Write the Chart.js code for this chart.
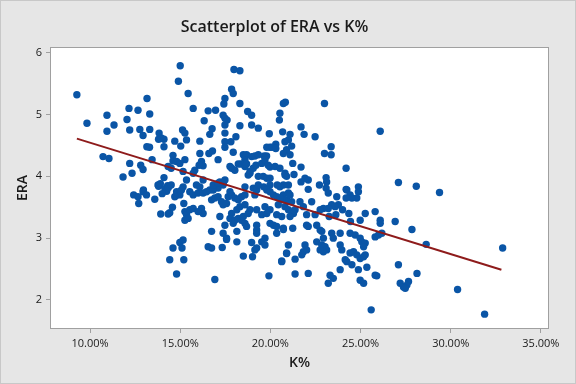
<!DOCTYPE html>
<html>
<head>
<meta charset="utf-8">
<script src="https://cdn.jsdelivr.net/npm/chart.js@4.4.0/dist/chart.umd.min.js"></script>
<style>
  html, body { margin: 0; padding: 0; background: #e6e6e6; }
  #wrap { width: 576px; height: 384px; }
</style>
</head>
<body>
<div id="wrap"><canvas id="chart" width="576" height="384"></canvas></div>
<script>
// Strikeout rate (%) of each pitcher
const kPct = [
  9.27, 13.16, 12.16, 12.66, 13.31, 10.94, 12.05, 9.83, 11.33, 10.94, 12.2, 12.76, 12.94, 13.31, 13.83, 13.8, 13.95, 14.1,
  14.7, 13.15, 13.3, 14.1, 15.0, 14.9, 10.72, 11.05, 12.2, 13.44, 12.81, 12.94, 14.6, 14.6, 14.33, 14.5, 11.83, 12.33,
  14.1, 13.77, 14.3, 12.96,
  12.42, 12.66, 12.94, 13.13, 12.7, 13.59, 13.8, 13.9, 14.15, 14.25, 14.0, 14.35, 13.92, 14.33, 14.42, 14.57, 14.8, 14.6,
  14.42, 14.8, 14.98,
  15.44, 17.98, 18.31, 17.85, 17.94, 15.72, 18.31, 17.48, 17.42, 16.55, 16.96, 16.33, 17.38, 17.48, 17.6, 18.74, 18.96, 20.53,
  20.5, 20.72, 20.83, 18.31, 18.96, 19.33, 17.48, 16.77, 16.64, 15.13, 15.26, 15.35, 15.03, 16.09, 17.48, 17.48, 18.09, 17.81,
  17.48, 17.94, 16.79, 16.59, 16.09, 15.26, 14.8, 14.98, 16.18, 16.27, 16.05, 17.1, 15.81, 15.72, 15.16, 18.5, 18.68, 18.59,
  18.96, 19.14, 19.33, 19.66, 19.79, 19.94, 20.3, 19.98, 19.8, 20.1, 20.3, 20.68, 20.81, 21.0, 20.9, 20.72, 18.59, 18.87,
  19.05, 19.2, 19.52, 18.37, 18.22, 18.68, 17.85, 18.03, 17.76, 18.77, 18.87, 19.7, 19.88, 19.98, 19.33, 19.6, 19.8, 19.98,
  20.26, 20.53, 20.81, 20.9, 18.59, 19.05, 19.24, 19.63, 19.98, 20.38, 20.72, 21.0, 17.2, 17.38, 17.48, 16.92, 17.1, 15.9,
  16.27, 15.35, 15.16, 14.5,
  14.8, 14.98, 14.7, 15.07, 15.2, 15.53, 15.72, 15.99, 16.27, 16.46, 16.64, 16.83, 16.09, 16.83, 17.1, 17.38, 15.26, 15.35,
  15.26, 15.44, 15.53, 15.72, 16.18, 16.27, 15.99, 16.74, 16.92, 17.1, 17.29, 17.38, 17.57, 17.66, 17.85, 17.76, 18.03, 18.22,
  18.4, 18.59, 18.31, 18.59, 18.14, 17.85, 17.94, 17.2, 17.48, 17.38, 17.57, 17.76, 18.03, 18.22, 18.4, 18.59, 18.68, 18.5,
  18.77, 18.87, 19.14, 19.24, 19.33, 19.8, 19.98, 20.17, 20.35, 20.72, 21.0, 20.9, 20.63, 20.44, 20.81, 21.0, 20.53, 19.24,
  19.7, 19.98, 19.52, 19.8, 20.35, 20.63, 19.98, 20.17, 20.35, 20.72, 20.35, 19.24, 19.24, 19.24, 16.74, 18.14, 18.14, 17.57,
  15.16, 15.1, 15.2, 16.55, 16.74, 17.33, 18.5, 18.96, 19.01, 19.14, 19.24, 19.52, 19.7, 19.7, 16.92, 19.92, 20.63, 20.9, 21.0,
  23.0, 26.09, 21.7, 21.09, 21.87, 22.48, 21.18, 23.37, 23.0, 23.37, 21.09, 21.24, 21.7, 24.2, 20.81, 21.31, 21.7, 21.92,
  22.1, 23.09, 22.72, 23.09, 22.1, 24.2, 24.88, 27.1, 28.09,
  23.12, 23.21, 24.88, 24.79, 24.24, 24.42, 24.52, 24.2, 23.68, 23.77, 23.59, 23.4, 23.21, 22.94, 22.76, 22.48, 23.26, 23.63,
  24.0, 20.53, 21.09, 21.18, 21.37, 21.28, 21.09, 21.64, 21.83, 22.29, 22.01, 20.72, 21.24, 22.01, 22.1, 22.57, 22.76, 22.85,
  23.4, 23.87, 23.49, 22.94, 22.57, 22.85, 23.03, 23.12, 22.94, 22.76, 21.92, 21.83, 22.01, 21.74, 20.9, 21.37, 20.63, 23.87,
  23.96, 24.42, 24.61, 24.79, 24.98, 25.17, 25.26, 24.42, 24.7, 24.98, 25.07, 25.26, 25.17, 25.81, 26.0, 26.18, 24.35, 24.44,
  24.98, 25.26, 25.81, 26.09, 26.09, 26.92, 27.85, 24.24, 24.52, 24.15, 23.87, 23.31, 23.49, 23.21, 24.88, 25.35, 24.98, 25.17,
  25.81, 25.9, 21.37, 22.1, 27.1, 27.2, 27.38, 27.57, 27.66, 27.48, 25.59, 28.13,
  29.38, 28.64, 32.88, 30.38, 31.88
];

// Earned run average of each pitcher
const era = [
  5.32, 5.26, 5.10, 5.07, 5.01, 4.99, 4.92, 4.86, 4.83, 4.73, 4.75, 4.76, 4.66, 4.76, 4.70, 4.60, 4.62, 4.60,
  4.57, 4.48, 4.47, 4.48, 5.79, 5.54, 4.32, 4.29, 4.21, 4.27, 4.18, 4.11, 4.34, 4.25, 4.16, 4.13, 3.99, 4.05,
  3.98, 3.86, 3.85, 3.78,
  3.70, 3.67, 3.75, 3.70, 3.56, 3.63, 3.84, 3.88, 3.80, 3.76, 3.72, 3.82, 3.39, 3.39, 3.41, 3.50, 3.70, 2.84,
  2.65, 2.42, 2.93,
  5.34, 5.73, 5.71, 5.41, 5.34, 5.10, 5.18, 5.26, 5.17, 5.06, 5.07, 4.90, 4.99, 4.94, 4.91, 5.05, 4.99, 5.02,
  4.91, 5.18, 5.20, 4.82, 4.83, 4.78, 4.83, 4.77, 4.68, 4.75, 4.70, 4.59, 4.49, 4.57, 4.70, 4.56, 4.64, 4.56,
  4.47, 4.39, 4.41, 4.37, 4.37, 4.27, 4.24, 4.21, 4.24, 4.17, 4.18, 4.27, 4.10, 4.05, 4.08, 4.35, 4.35, 4.27,
  4.32, 4.33, 4.35, 4.33, 4.33, 4.69, 4.52, 4.47, 4.47, 4.47, 4.45, 4.72, 4.56, 4.59, 4.43, 4.37, 4.16, 4.08,
  4.13, 4.18, 4.21, 4.20, 4.20, 4.20, 4.13, 4.10, 4.16, 4.02, 4.05, 4.27, 4.18, 4.15, 4.00, 4.00, 3.97, 3.97,
  4.16, 4.13, 4.05, 4.00, 3.83, 3.81, 3.81, 3.83, 3.86, 3.86, 3.86, 3.86, 3.91, 3.89, 3.94, 3.83, 3.81, 3.86,
  3.94, 3.94, 3.83, 3.86,
  3.75, 3.70, 3.67, 3.78, 3.56, 3.75, 3.70, 3.73, 3.73, 3.75, 3.78, 3.78, 3.83, 3.86, 3.89, 3.86, 3.43, 3.38,
  3.29, 3.32, 3.46, 3.48, 3.48, 3.40, 3.43, 3.62, 3.65, 3.67, 3.59, 3.54, 3.56, 3.67, 3.70, 3.75, 3.65, 3.62,
  3.67, 3.70, 3.51, 3.54, 3.46, 3.40, 3.24, 3.35, 3.21, 3.08, 3.00, 3.32, 3.29, 3.32, 3.29, 3.24, 3.19, 3.35,
  3.40, 3.46, 3.70, 3.78, 3.86, 3.78, 3.75, 3.70, 3.67, 3.70, 3.73, 3.62, 3.62, 3.54, 3.51, 3.46, 3.83, 3.46,
  3.51, 3.46, 3.38, 3.40, 3.38, 3.35, 3.24, 3.21, 3.19, 3.16, 3.08, 3.21, 3.13, 3.08, 3.11, 3.11, 2.94, 2.98,
  2.97, 2.84, 2.65, 2.86, 2.84, 2.85, 2.71, 2.93, 2.70, 2.81, 2.84, 2.94, 2.89, 3.00, 2.33, 2.39, 2.63, 2.75, 2.89,
  5.18, 4.73, 4.80, 4.68, 4.68, 4.64, 4.49, 4.48, 4.37, 4.35, 4.35, 4.21, 4.15, 4.13, 4.02, 4.03, 3.91, 3.97,
  3.94, 3.98, 3.86, 3.81, 3.79, 3.79, 3.83, 3.90, 3.84,
  3.91, 3.73, 3.75, 3.65, 3.78, 3.70, 3.65, 3.65, 3.67, 3.54, 3.51, 3.54, 3.48, 3.48, 3.46, 3.38, 3.35, 3.38,
  3.46, 3.65, 3.70, 3.59, 3.46, 3.40, 3.35, 3.59, 3.51, 3.59, 3.38, 3.14, 3.16, 3.21, 3.19, 3.21, 3.13, 3.11,
  3.08, 3.08, 3.00, 3.00, 2.94, 2.89, 2.86, 2.81, 2.78, 2.81, 2.89, 2.78, 2.81, 2.73, 2.76, 2.66, 2.62, 2.89,
  2.81, 2.76, 2.78, 2.73, 2.67, 2.70, 2.73, 3.08, 3.05, 3.00, 2.94, 2.92, 2.86, 3.02, 3.05, 3.08, 3.40, 3.27,
  3.29, 3.40, 3.43, 3.29, 3.24, 3.27, 3.14, 2.62, 2.57, 2.65, 2.49, 2.40, 2.35, 2.27, 2.49, 2.53, 2.32, 2.27,
  2.40, 2.39, 2.42, 2.43, 2.57, 2.27, 2.21, 2.24, 2.30, 2.19, 1.84, 2.43,
  3.74, 2.90, 2.84, 2.17, 1.77
];

// Fitted regression line end points
const fitK = [9.27, 32.81];
const fitEra = [4.61, 2.49];

// Tick labels
const xTicks = [10, 15, 20, 25, 30, 35];
const yTicks = [2, 3, 4, 5, 6];

const points = kPct.map((k, i) => ({ x: k, y: era[i] }));
const fitLine = fitK.map((k, i) => ({ x: k, y: fitEra[i] }));

const fontFamily = '"Open Sans", "Noto Sans", sans-serif';
const axisGray = '#a0a0a0';

// Gray page, white plot area and a full frame round it
const framePlugin = {
    id: 'frame',
    beforeDraw(chart) {
        const { ctx, chartArea: a, width, height } = chart;
        ctx.save();
        ctx.fillStyle = '#e6e6e6';
        ctx.fillRect(0, 0, width, height);
        ctx.strokeStyle = '#c8c8c8';
        ctx.lineWidth = 1;
        ctx.strokeRect(0.5, 0.5, width - 1, height - 1);
        ctx.fillStyle = '#ffffff';
        ctx.fillRect(a.left, a.top, a.right - a.left, a.bottom - a.top);
        ctx.restore();
    },
    afterDraw(chart) {
        const { ctx, chartArea: a } = chart;
        ctx.save();
        ctx.strokeStyle = axisGray;
        ctx.lineWidth = 1;
        ctx.strokeRect(Math.round(a.left) + 0.5, Math.round(a.top) + 0.5,
            Math.round(a.right - a.left) - 1, Math.round(a.bottom - a.top) - 1);
        ctx.restore();
    }
};

const ctx = document.getElementById('chart').getContext('2d');
const chart = new Chart(ctx, {
    type: 'scatter',
    data: {
        datasets: [
            {
                type: 'line',
                label: 'Fit',
                data: fitLine,
                borderColor: '#8e1b1b',
                borderWidth: 2,
                pointRadius: 0,
                fill: false
            },
            {
                label: 'ERA',
                data: points,
                backgroundColor: '#0a55a6',
                borderWidth: 0,
                pointRadius: 3.7,
                pointHoverRadius: 3.7
            }
        ]
    },
    options: {
        responsive: false,
        animation: false,
        events: [],
        layout: {
            padding: { left: 0, right: 27, top: 0, bottom: 0 }
        },
        plugins: {
            legend: { display: false },
            tooltip: { enabled: false },
            title: {
                display: true,
                text: 'Scatterplot of ERA vs K%',
                color: '#1a1a1a',
                font: { family: fontFamily, size: 16, weight: '600' },
                padding: { top: 18, bottom: 10 }
            }
        },
        scales: {
            x: {
                type: 'linear',
                min: 7.78,
                max: 35.45,
                afterBuildTicks: function(scale) {
                    scale.ticks = xTicks.map(v => ({ value: v }));
                },
                afterFit: function(scale) {
                    scale.height = 55;
                    scale.paddingLeft = 0;
                    scale.paddingRight = 0;
                },
                border: { display: false },
                grid: {
                    drawOnChartArea: false,
                    drawTicks: true,
                    tickLength: 4,
                    color: axisGray
                },
                ticks: {
                    padding: 4,
                    color: '#1a1a1a',
                    maxRotation: 0,
                    font: { family: fontFamily, size: 11 },
                    callback: function(value) {
                        return value.toFixed(2) + '%';
                    }
                },
                title: {
                    display: true,
                    text: 'K%',
                    color: '#1a1a1a',
                    font: { family: fontFamily, size: 14, weight: '600' },
                    padding: { top: 0, bottom: 13 }
                }
            },
            y: {
                type: 'linear',
                min: 1.53,
                max: 6.09,
                afterBuildTicks: function(scale) {
                    scale.ticks = yTicks.map(v => ({ value: v }));
                },
                afterFit: function(scale) {
                    scale.width = 50;
                    scale.paddingTop = 0;
                    scale.paddingBottom = 0;
                },
                border: { display: false },
                grid: {
                    drawOnChartArea: false,
                    drawTicks: true,
                    tickLength: 4,
                    color: axisGray
                },
                ticks: {
                    padding: 4,
                    color: '#1a1a1a',
                    font: { family: fontFamily, size: 11 }
                },
                title: {
                    display: true,
                    text: 'ERA',
                    color: '#1a1a1a',
                    font: { family: fontFamily, size: 14, weight: '600' },
                    padding: { top: 15, bottom: 0 }
                }
            }
        }
    },
    plugins: [framePlugin]
});
</script>
</body>
</html>
